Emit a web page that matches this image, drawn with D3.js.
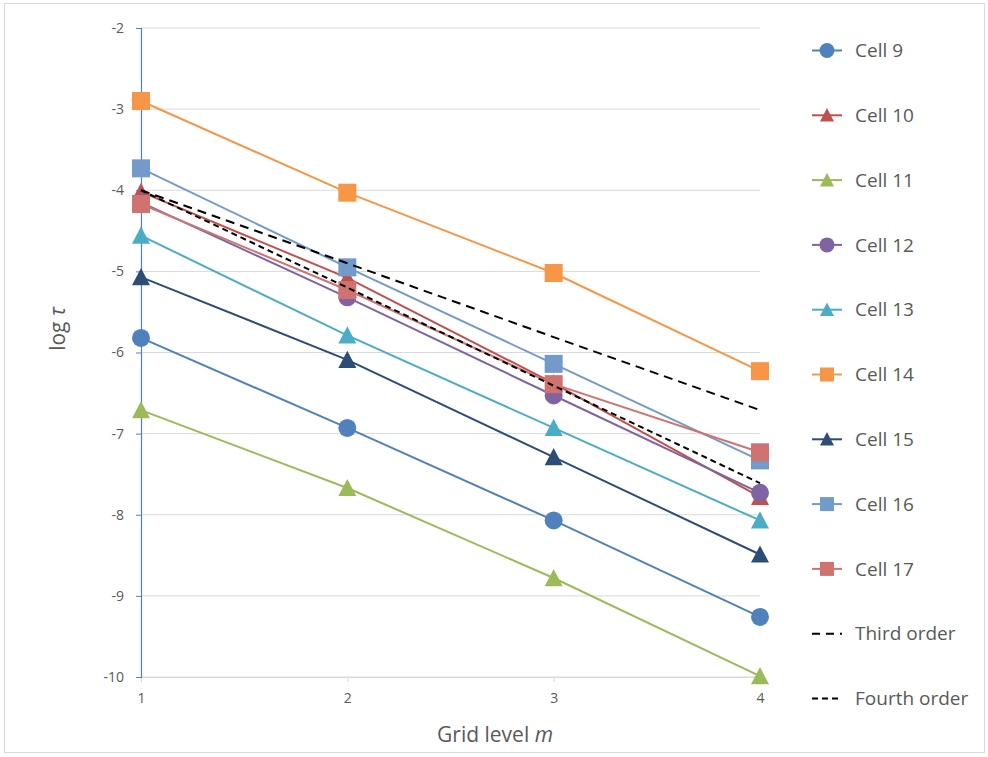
<!DOCTYPE html>
<html><head><meta charset="utf-8">
<script src="https://cdn.jsdelivr.net/npm/d3@7"></script>
<style>body{margin:0;background:#fff;} text{font-family:"Open Sans",sans-serif;}</style>
</head><body>
<svg id="c" width="988" height="757"></svg>
<script>
const levels = [1, 2, 3, 4];
const seriesNames = ["Cell 9","Cell 10","Cell 11","Cell 12","Cell 13","Cell 14","Cell 15","Cell 16","Cell 17","Third order","Fourth order"];
const cell9  = [-5.82, -6.93, -8.07, -9.26];
const cell10 = [-4.02, -5.08, -6.38, -7.78];
const cell11 = [-6.71, -7.67, -8.78, -9.99];
const cell12 = [-4.15, -5.32, -6.53, -7.73];
const cell13 = [-4.56, -5.79, -6.93, -8.07];
const cell14 = [-2.90, -4.03, -5.02, -6.23];
const cell15 = [-5.07, -6.09, -7.29, -8.49];
const cell16 = [-3.73, -4.95, -6.14, -7.33];
const cell17 = [-4.17, -5.23, -6.39, -7.23];
const thirdOrder  = [-4.00, -4.90, -5.81, -6.71];
const fourthOrder = [-4.00, -5.20, -6.41, -7.61];
const yTicks = [-2,-3,-4,-5,-6,-7,-8,-9,-10];

const allValues = [cell9,cell10,cell11,cell12,cell13,cell14,cell15,cell16,cell17,thirdOrder,fourthOrder];
const colors = ["#4F81BD","#C0504D","#9BBB59","#8064A2","#4BACC6","#F79646","#2C4D75","#729ACA","#D07370","#000","#000"];
const markers = ["circle","triangle","triangle","circle","triangle","square","triangle","square","square",null,null];
const dashes = [null,null,null,null,null,null,null,null,null,"9,6","6,4"];
const legDashes = [null,null,null,null,null,null,null,null,null,"8,6","6,4"];

const svg = d3.select("#c");
svg.append("rect").attr("x",4.5).attr("y",3.5).attr("width",980).attr("height",749)
  .attr("fill","#fff").attr("stroke","#d9d9d9");

const x = d3.scaleLinear().domain([1,4]).range([141,760]);
const y = d3.scaleLinear().domain([-10,-2]).range([677,28]);

// gridlines
svg.append("g").selectAll("line").data(yTicks).join("line")
  .attr("x1",141).attr("x2",760).attr("y1",d=>y(d)).attr("y2",d=>y(d))
  .attr("stroke","#d9d9d9").attr("stroke-width",1);

// x axis
const xa = svg.append("g").attr("transform",`translate(0,${y(-10)})`)
  .call(d3.axisBottom(x).tickValues(levels).tickFormat(d=>String(d)).tickSize(5).tickPadding(11));
xa.select(".domain").attr("stroke","#d9d9d9");
xa.selectAll(".tick line").attr("stroke","#d9d9d9");
xa.selectAll("text").attr("fill","#595959").attr("font-size",14).attr("font-family","'Open Sans',sans-serif");

// y axis
const ya = svg.append("g").attr("transform",`translate(${x(1)},0)`)
  .call(d3.axisLeft(y).tickValues(yTicks).tickFormat(d=>String(d)).tickSize(5).tickPadding(12));
ya.select(".domain").attr("stroke","#4F81BD").attr("stroke-width",1.2);
ya.selectAll(".tick line").attr("stroke","#4F81BD");
ya.selectAll("text").attr("fill","#595959").attr("font-size",14).attr("font-family","'Open Sans',sans-serif");

// axis titles
const xt = svg.append("text").attr("x",495).attr("y",742).attr("text-anchor","middle")
  .attr("font-size",21).attr("fill","#595959");
xt.append("tspan").text("Grid level ");
xt.append("tspan").attr("font-style","italic").text("m");
const yt = svg.append("text").attr("transform","translate(65,329) rotate(-90)").attr("text-anchor","middle")
  .attr("font-size",21).attr("fill","#595959");
yt.append("tspan").text("log ");
yt.append("tspan").attr("font-style","italic").text("τ");

function drawMarker(g, type, cx, cy, s, color){
  if(type==="circle") g.append("circle").attr("cx",cx).attr("cy",cy).attr("r",s/2).attr("fill",color);
  else if(type==="square") g.append("rect").attr("x",cx-s/2).attr("y",cy-s/2).attr("width",s).attr("height",s).attr("fill",color);
  else if(type==="triangle"){
    const h=s*0.9;
    g.append("path").attr("d",`M${cx},${cy-h/2-1}L${cx+s/2},${cy+h/2}L${cx-s/2},${cy+h/2}Z`).attr("fill",color);
  }
}

const line = d3.line().x((d,i)=>x(levels[i])).y(d=>y(d));
const plot = svg.append("g");
allValues.forEach((vals,k)=>{
  const g = plot.append("g");
  g.append("path").datum(vals).attr("d",line).attr("fill","none")
    .attr("stroke",colors[k]).attr("stroke-width",2)
    .attr("stroke-dasharray",dashes[k]);
  if(markers[k]) vals.forEach((v,i)=>drawMarker(g,markers[k],x(levels[i]),y(v),18,colors[k]));
});

// legend
const leg = svg.append("g");
seriesNames.forEach((name,k)=>{
  const cy = 50.5 + k*64.8;
  const g = leg.append("g");
  g.append("line").attr("x1",812).attr("x2",842).attr("y1",cy).attr("y2",cy)
    .attr("stroke",colors[k]).attr("stroke-width",2).attr("stroke-dasharray",legDashes[k]);
  if(markers[k]) drawMarker(g,markers[k],827,cy,markers[k]==="circle"?15:14,colors[k]);
  g.append("text").attr("x",855).attr("y",cy).attr("dy","0.35em").attr("font-size",19)
    .attr("fill","#595959").text(name);
});
</script>
</body></html>
